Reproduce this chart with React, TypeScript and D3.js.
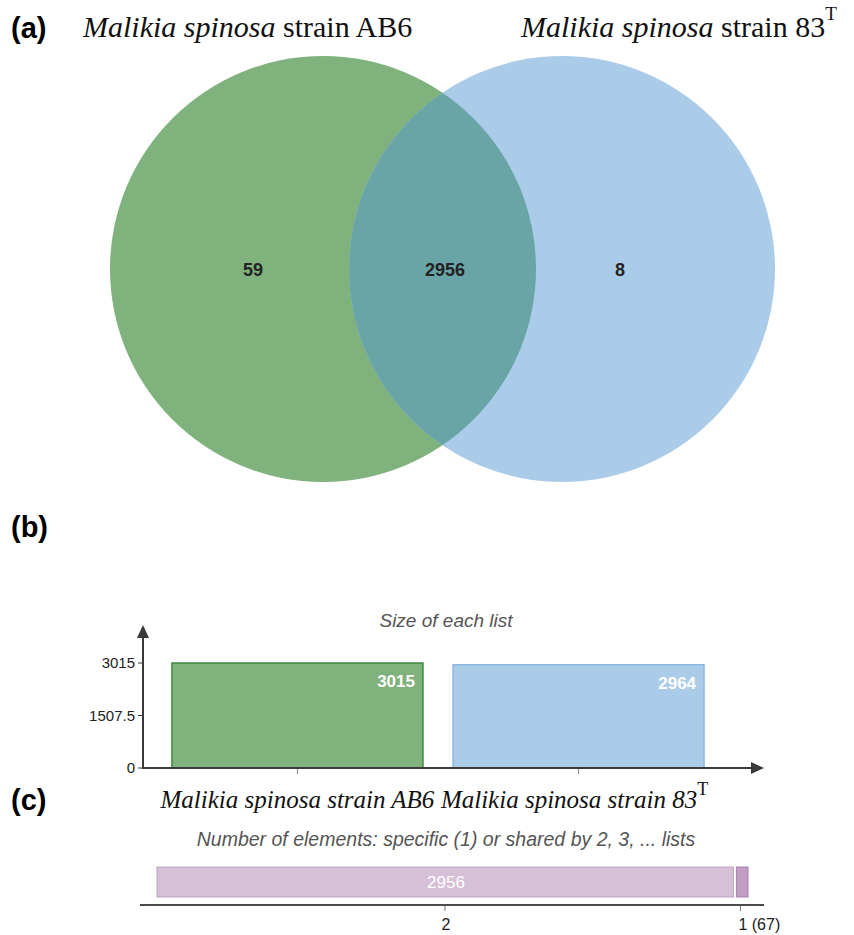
import React from "react";
import * as d3 from "d3";

// Venn regions: only AB6, shared, only 83T
const vennOnlyA = 59;
const vennShared = 2956;
const vennOnlyB = 8;

// Size of each list
const listNames = ["Malikia spinosa strain AB6", "Malikia spinosa strain 83"];
const listSizes = [3015, 2964];
const listTicks = [0, 1507.5, 3015];

// Elements shared by n lists
const sharedDegrees = ["2", "1"];
const sharedCounts = [2956, 67];

const W = 854;
const H = 935;
const sans = "Arial, 'Liberation Sans', Helvetica, sans-serif";
const serif = "'Liberation Serif', 'Times New Roman', 'DejaVu Serif', serif";

const green = "#7fb27d";
const greenStroke = "#3f8b3f";
const blue = "#abcce9";
const blueStroke = "#8db7e0";
const overlap = "#69a5a7";
const axisColor = "#3a3a3a";

export default function App() {
  // ---- (a) Venn diagram ----
  const r = 213;
  const cy = 269;
  const cxA = 323;
  const cxB = 562;

  // ---- (b) bar chart ----
  const x = d3
    .scaleBand<string>()
    .domain(listNames)
    .range([143, 733])
    .paddingInner(0.107)
    .paddingOuter(0.103);
  const y = d3.scaleLinear().domain([0, 3015]).range([768, 663]);
  const barFill = [green, blue];
  const barStroke = [greenStroke, blueStroke];

  // ---- (c) stacked bar ----
  const total = d3.sum(sharedCounts);
  const xs = d3.scaleLinear().domain([0, total]).range([157, 748]);
  const starts = sharedCounts.map((_, i) => d3.sum(sharedCounts.slice(0, i)));
  const segFill = ["#d6c0d8", "#c39dc6"];
  const segStroke = ["#bda3c0", "#a582aa"];

  return (
    <svg width={W} height={H} style={{ position: "absolute", left: 0, top: 0 }}>
      <rect width={W} height={H} fill="#fff" />
      <defs>
        <clipPath id="clipA">
          <circle cx={cxA} cy={cy} r={r} />
        </clipPath>
      </defs>

      {/* panel labels */}
      <text x={11} y={38} fontFamily={sans} fontWeight="bold" fontSize={29}>(a)</text>
      <text x={11} y={537} fontFamily={sans} fontWeight="bold" fontSize={29}>(b)</text>
      <text x={11} y={810} fontFamily={sans} fontWeight="bold" fontSize={29}>(c)</text>

      {/* set titles */}
      <text x={83} y={37} fontFamily={serif} fontSize={30} fill="#111">
        <tspan fontStyle="italic">Malikia spinosa</tspan>
        <tspan> strain AB6</tspan>
      </text>
      <text x={521} y={37} fontFamily={serif} fontSize={30} fill="#111">
        <tspan fontStyle="italic">Malikia spinosa</tspan>
        <tspan> strain 83</tspan>
        <tspan dy={-17} fontSize={19}>T</tspan>
      </text>

      {/* Venn circles */}
      <circle cx={cxA} cy={cy} r={r} fill={green} />
      <circle cx={cxB} cy={cy} r={r} fill={blue} />
      <circle cx={cxB} cy={cy} r={r} fill={overlap} clipPath="url(#clipA)" />
      <g fontFamily={sans} fontWeight="bold" fontSize={18} fill="#222" textAnchor="middle">
        <text x={253} y={276}>{vennOnlyA}</text>
        <text x={445} y={276}>{vennShared}</text>
        <text x={620} y={276}>{vennOnlyB}</text>
      </g>

      {/* (b) Size of each list */}
      <text x={446} y={627} textAnchor="middle" fontFamily={sans} fontStyle="italic" fontSize={19} fill="#555">
        Size of each list
      </text>
      {listNames.map((n, i) => (
        <g key={n}>
          <rect
            x={x(n)!}
            y={y(listSizes[i])}
            width={x.bandwidth()}
            height={y(0) - y(listSizes[i])}
            fill={barFill[i]}
            stroke={barStroke[i]}
            strokeWidth={1.5}
          />
          <text
            x={x(n)! + x.bandwidth() - 8}
            y={y(listSizes[i]) + 24}
            textAnchor="end"
            fontFamily={sans}
            fontWeight="bold"
            fontSize={17}
            fill="#fff"
          >
            {listSizes[i]}
          </text>
          <line
            x1={x(n)! + x.bandwidth() / 2}
            x2={x(n)! + x.bandwidth() / 2}
            y1={768}
            y2={774}
            stroke="#888"
            strokeWidth={1}
          />
        </g>
      ))}
      {/* axes with arrows */}
      <line x1={143} y1={769} x2={143} y2={635} stroke={axisColor} strokeWidth={2} />
      <path d="M143,625 L137,638 L149,638 Z" fill={axisColor} />
      <line x1={142} y1={768} x2={752} y2={768} stroke={axisColor} strokeWidth={2} />
      <path d="M764,768 L751,762 L751,774 Z" fill={axisColor} />
      {listTicks.map((t) => (
        <g key={t}>
          <line x1={138} x2={143} y1={y(t)} y2={y(t)} stroke={axisColor} strokeWidth={1} />
          <text x={135} y={y(t) + 5} textAnchor="end" fontFamily={sans} fontSize={15} fill="#222">
            {t}
          </text>
        </g>
      ))}
      {/* category labels */}
      <text x={x(listNames[0])! + x.bandwidth() / 2} y={808} textAnchor="middle" fontFamily={serif} fontStyle="italic" fontSize={25} fill="#111">
        {listNames[0]}
      </text>
      <text x={x(listNames[1])! + x.bandwidth() / 2 - 4} y={808} textAnchor="middle" fontFamily={serif} fontStyle="italic" fontSize={25} fill="#111">
        {listNames[1]}
        <tspan dy={-13} fontSize={18} fontStyle="normal">T</tspan>
      </text>

      {/* (c) Number of elements shared */}
      <text x={446} y={846} textAnchor="middle" fontFamily={sans} fontStyle="italic" fontSize={19.5} fill="#555">
        Number of elements: specific (1) or shared by 2, 3, ... lists
      </text>
      {sharedCounts.map((c, i) => {
        const x0 = xs(starts[i]) + (i > 0 ? 1.5 : 0);
        const x1 = xs(starts[i] + c) - (i < sharedCounts.length - 1 ? 1.5 : 0);
        const mid = (xs(starts[i]) + xs(starts[i] + c)) / 2;
        const wide = x1 - x0 > 40;
        return (
          <g key={sharedDegrees[i]}>
            <rect x={x0} y={867} width={x1 - x0} height={30} fill={segFill[i]} stroke={segStroke[i]} strokeWidth={1} />
            {wide && (
              <text x={mid} y={888} textAnchor="middle" fontFamily={sans} fontSize={17} fill="#fff">
                {c}
              </text>
            )}
            <line x1={mid - 1} x2={mid - 1} y1={905} y2={911} stroke="#777" strokeWidth={1} />
            <text
              x={wide ? mid : mid - 3}
              y={930}
              textAnchor={wide ? "middle" : "start"}
              fontFamily={sans}
              fontSize={16}
              fill="#222"
            >
              {wide ? sharedDegrees[i] : `${sharedDegrees[i]} (${c})`}
            </text>
          </g>
        );
      })}
      <line x1={140} x2={764} y1={905} y2={905} stroke="#4a4a4a" strokeWidth={2} />
    </svg>
  );
}
